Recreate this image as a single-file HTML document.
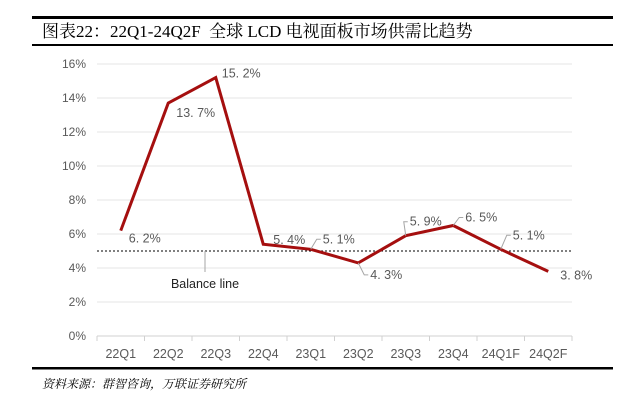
<!DOCTYPE html>
<html><head><meta charset="utf-8"><style>
body{margin:0;background:#fff;width:625px;height:400px;overflow:hidden;font-family:"Liberation Sans","Noto Sans CJK SC",sans-serif}
</style></head><body>
<svg width="625" height="400">
<rect x="32" y="16" width="581" height="3" fill="#000"/>
<text x="42" y="37" font-family="Liberation Serif,'Noto Serif CJK SC',serif" font-size="17" xml:space="preserve">图表22：22Q1-24Q2F  全球 LCD 电视面板市场供需比趋势</text>
<rect x="32" y="44" width="581" height="2" fill="#000"/>
<g id="grid"></g>
<g id="plot"></g>
<rect x="32" y="367" width="581" height="2.5" fill="#000"/>
<text x="42" y="388" font-style="italic" font-family="'Noto Serif CJK SC',serif" font-size="12">资料来源：群智咨询，万联证券研究所</text>
</svg>
<script>
const categories=["22Q1","22Q2","22Q3","22Q4","23Q1","23Q2","23Q3","23Q4","24Q1F","24Q2F"];
const values=[6.2,13.7,15.2,5.4,5.1,4.3,5.9,6.5,5.1,3.8];
const yTicks=[0,2,4,6,8,10,12,14,16];
const balance=[5];
const NS="http://www.w3.org/2000/svg";
const x0=97,x1=572,y0=336,y1=64;
const bw=(x1-x0)/categories.length;
const xs=i=>x0+bw*(i+0.5);
const ys=v=>y0-(v-0)/(16-0)*(y0-y1);
function mk(t,a,p){const e=document.createElementNS(NS,t);for(const k in a)e.setAttribute(k,a[k]);p.appendChild(e);return e;}
const g=document.getElementById('grid'),p=document.getElementById('plot');
yTicks.forEach(v=>{
 const l=mk('line',{x1:x0,x2:x1,y1:ys(v),y2:ys(v),stroke:v===0?'#d0d0d0':'#e4e4e4','stroke-width':1},g);
 
 
 const t=mk('text',{x:x0-11,y:ys(v)+4,'text-anchor':'end','font-size':12,fill:'#595959'},g);
 t.textContent=v+'%';
 
 
});
categories.forEach((c,i)=>{
 const tk=mk('line',{x1:x0+bw*i,x2:x0+bw*i,y1:y0,y2:y0+5,stroke:'#d0d0d0'},g);
 
 
 const t=mk('text',{x:xs(i),y:y0+22,'text-anchor':'middle','font-size':12.5,fill:'#595959'},g);
 t.textContent=c;
 
 
});
mk('line',{x1:x1,x2:x1,y1:y0,y2:y0+5,stroke:'#d0d0d0'},g);
const bl=mk('line',{x1:x0,x2:x1,y1:ys(balance[0]),y2:ys(balance[0]),stroke:'#000','stroke-dasharray':'2,2','stroke-width':1},p);


const bll=mk('line',{x1:205,y1:ys(balance[0]),x2:205,y2:ys(balance[0])+21,stroke:'#a6a6a6'},p);


const blt=mk('text',{x:205,y:ys(balance[0])+37,'text-anchor':'middle','font-size':12.5,fill:'#222'},p);
blt.textContent='Balance line';


const line=mk('polyline',{points:values.map((v,i)=>xs(i)+','+ys(v)).join(' '),fill:'none',stroke:'#a50f0f','stroke-width':3,'stroke-linejoin':'miter'},p);


const off=[[8,8,'s'],[8,10,'s'],[6,-4,'s'],[10,-4,'s'],[12,-10,'l'],[12,12,'l'],[4,-14,'l'],[12,-8,'l'],[12,-14,'l'],[12,4,'s']];
values.forEach((v,i)=>{
 const x=xs(i),y=ys(v);let [dx,dy,k]=off[i];
 if(k==='l'){const le=mk('polyline',{points:`${x},${y} ${x+dx-6},${y+dy} ${x+dx-2},${y+dy}`,fill:'none',stroke:'#a6a6a6'},p);
  
  }
 const t=mk('text',{x:x+dx,y:y+dy+4,'font-size':12.5,fill:'#595959'},p);
 t.textContent=v.toFixed(1).replace('.','. ')+'%';
 
 
});
</script>
</body></html>
